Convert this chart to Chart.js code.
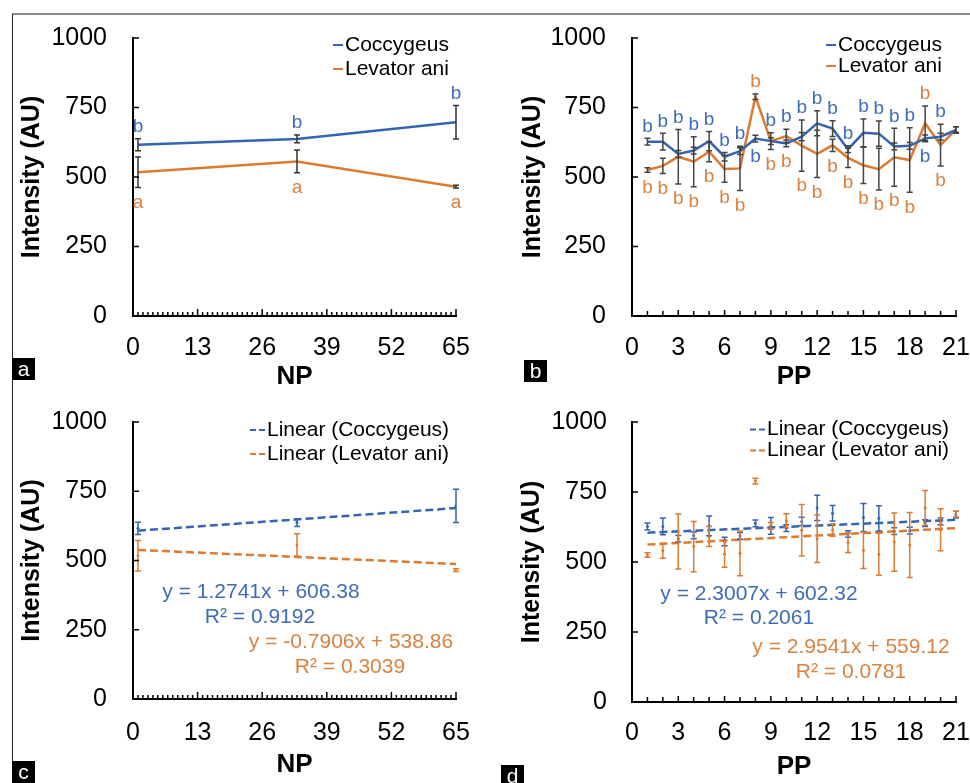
<!DOCTYPE html>
<html>
<head>
<meta charset="utf-8">
<script src="https://cdn.jsdelivr.net/npm/chart.js@4.4.1/dist/chart.umd.min.js"></script>
<style>
  html, body { margin: 0; padding: 0; background: #fff; }
  #fig { position: relative; width: 970px; height: 783px; overflow: hidden; }
  #frame { position: absolute; left: 12px; top: 13px; width: 960px; height: 780px;
           border-top: 2px solid #8a8a8a; border-left: 1.5px solid #222; }
  canvas { position: absolute; }
  .tag { position: absolute; width: 23px; height: 22px; background: #000; color: #fff;
         font: 21px 'Liberation Sans', Arial, sans-serif; line-height: 21px; text-align: center; }
</style>
</head>
<body>
<div id="fig">
  <div id="frame"></div>
  <canvas id="pa" width="485" height="390" style="left:0;top:0"></canvas>
  <canvas id="pb" width="485" height="390" style="left:485px;top:0"></canvas>
  <canvas id="pc" width="485" height="393" style="left:0;top:390px"></canvas>
  <canvas id="pd" width="485" height="393" style="left:485px;top:390px"></canvas>
  <div class="tag" style="left:12px;top:358px">a</div>
  <div class="tag" style="left:524px;top:360px">b</div>
  <div class="tag" style="left:12px;top:761px">c</div>
  <div class="tag" style="left:501px;top:765px">d</div>
</div>
<script>
// ---- data ----
const yTicks = [0, 250, 500, 750, 1000];
const npTicks = [0, 13, 26, 39, 52, 65];
const ppTicks = [0, 3, 6, 9, 12, 15, 18, 21];

const npDays = [1, 33, 65];
const npCoccygeus = [616, 637, 697];
const npCoccygeusErr = [22, 14, 60];
const npLevator = [517, 556, 465];
const npLevatorErr = [55, 41, 5];
const npCoccygeusLetters = ['b', 'b', 'b'];
const npLevatorLetters = ['a', 'a', 'a'];

const ppDays = [1, 2, 3, 4, 5, 6, 7, 8, 9, 10, 11, 12, 13, 14, 15, 16, 17, 18, 19, 20, 21];
const ppCoccygeus = [627, 627, 583, 595, 629, 573, 593, 638, 629, 621, 645, 693, 674, 600, 659, 656, 610, 612, 639, 645, 669];
const ppCoccygeusErr = [12, 30, 12, 12, 35, 15, 12, 12, 30, 12, 15, 45, 28, 12, 50, 45, 12, 12, 12, 12, 12];
const ppLevator = [525, 540, 573, 555, 591, 529, 531, 789, 629, 647, 613, 583, 614, 569, 542, 528, 571, 561, 693, 615, 671];
const ppLevatorErr = [8, 27, 98, 90, 36, 48, 80, 10, 12, 25, 92, 85, 22, 35, 65, 75, 104, 116, 62, 75, 10];
const ppLetters = ['b', 'b', 'b', 'b', 'b', 'b', 'b', 'b', 'b', 'b', 'b', 'b', 'b', 'b', 'b', 'b', 'b', 'b', 'b', 'b', ''];
// where the letter sits for Coccygeus; Levator ani takes the other side
const ppCoccygeusSide = ['above', 'above', 'above', 'above', 'above', 'above', 'above', 'below', 'above', 'above',
  'above', 'above', 'above', 'above', 'above', 'above', 'above', 'above', 'below', 'above', 'above'];

// trendlines as printed on panels c and d: [Coccygeus, Levator ani]
const npSlope = [1.2741, -0.7906];
const npIntercept = [606.38, 538.86];
const npR2 = [0.9192, 0.3039];
const ppSlope = [2.3007, 2.9541];
const ppIntercept = [602.32, 559.12];
const ppR2 = [0.2061, 0.0781];

const BLUE = '#3565b0';
const ORANGE = '#dc7a30';
const BLUE_TXT = '#3e6cb6';
const ORANGE_TXT = '#d9823f';
const FONT = "'Liberation Sans', Arial, sans-serif";

const pts = (xs, ys) => xs.map((x, i) => ({ x: x, y: ys[i] }));
const other = s => s === 'above' ? 'below' : 'above';

// ---- plugins ----
const axisMarks = {
  id: 'axisMarks',
  afterDraw(chart, args, o) {
    const { ctx, chartArea: a, scales: { x, y } } = chart;
    ctx.save();
    ctx.strokeStyle = '#000';
    ctx.lineWidth = 1.5;
    ctx.beginPath();
    y.ticks.forEach(t => {
      const p = y.getPixelForValue(t.value);
      ctx.moveTo(a.left, p); ctx.lineTo(a.left + 6, p);
    });
    for (let v = x.min + 1; v <= x.max; v++) {
      const p = x.getPixelForValue(v);
      const len = v % o.major === 0 ? o.majorLen : o.minorLen;
      ctx.moveTo(p, a.bottom); ctx.lineTo(p, a.bottom - len);
    }
    ctx.stroke();
    ctx.restore();
  }
};

const errorBars = {
  id: 'errorBars',
  afterDatasetsDraw(chart) {
    const { ctx, scales: { y } } = chart;
    chart.data.datasets.forEach((ds, i) => {
      if (!ds.errors) return;
      const meta = chart.getDatasetMeta(i);
      ctx.save();
      ctx.strokeStyle = ds.errorColor;
      ctx.lineWidth = 1.5;
      ctx.beginPath();
      meta.data.forEach((pt, j) => {
        const v = ds.data[j].y, e = ds.errors[j];
        const t = y.getPixelForValue(v + e), b = y.getPixelForValue(v - e);
        ctx.moveTo(pt.x, t); ctx.lineTo(pt.x, b);
        ctx.moveTo(pt.x - 3, t); ctx.lineTo(pt.x + 3, t);
        ctx.moveTo(pt.x - 3, b); ctx.lineTo(pt.x + 3, b);
      });
      ctx.stroke();
      ctx.restore();
    });
  }
};

const sigLetters = {
  id: 'sigLetters',
  afterDatasetsDraw(chart) {
    const { ctx, scales: { y } } = chart;
    const all = chart.data.datasets;
    const sets = all.filter(d => d.letters);
    if (!sets.length) return;
    ctx.save();
    ctx.font = '19px ' + FONT;
    ctx.textAlign = 'center';
    ctx.textBaseline = 'middle';
    sets.forEach(ds => {
      const meta = chart.getDatasetMeta(all.indexOf(ds));
      meta.data.forEach((pt, j) => {
        const L = ds.letters[j];
        if (!L) return;
        let py;
        if (ds.sides[j] === 'above') {
          const top = Math.max(...sets.map(s => s.data[j].y + s.errors[j]));
          py = y.getPixelForValue(top) - 12;
        } else {
          const bot = Math.min(...sets.map(s => s.data[j].y - s.errors[j]));
          py = y.getPixelForValue(bot) + 15;
        }
        ctx.fillStyle = ds.letterColor;
        ctx.fillText(L, pt.x, py);
      });
    });
    ctx.restore();
  }
};

const lineLegend = {
  id: 'lineLegend',
  afterDraw(chart, args, o) {
    const ctx = chart.ctx;
    ctx.save();
    ctx.font = '21px ' + FONT;
    ctx.textAlign = 'left';
    ctx.textBaseline = 'middle';
    o.items.forEach((it, k) => {
      const yy = o.y + k * o.gap;
      ctx.strokeStyle = it.color;
      ctx.lineWidth = 2;
      ctx.setLineDash(it.dash || []);
      ctx.beginPath(); ctx.moveTo(o.x, yy); ctx.lineTo(o.x + o.len, yy); ctx.stroke();
      ctx.setLineDash([]);
      ctx.fillStyle = '#000';
      ctx.fillText(it.text, o.x + o.len + 2, yy);
    });
    ctx.restore();
  }
};

const fitLabels = {
  id: 'fitLabels',
  afterDraw(chart, args, o) {
    if (!o.items) return;
    const ctx = chart.ctx;
    ctx.save();
    ctx.font = '21px ' + FONT;
    ctx.textAlign = 'center';
    ctx.textBaseline = 'middle';
    o.items.forEach(it => {
      ctx.fillStyle = it.color;
      ctx.fillText(it.text, it.x, it.y);
    });
    ctx.restore();
  }
};

const eqText = (s, b) => 'y = ' + s + 'x + ' + b;
const r2Text = r => 'R\u00b2 = ' + r.toFixed(4);

function trend(xs, s, b, color) {
  const x0 = xs[0], x1 = xs[xs.length - 1];
  return {
    data: [{ x: x0, y: s * x0 + b }, { x: x1, y: s * x1 + b }],
    showLine: true, borderColor: color, borderWidth: 2.5, borderDash: [8, 4], pointRadius: 0
  };
}

function panel(id, p) {
  const cvs = document.getElementById(id);
  return new Chart(cvs, {
    type: 'scatter',
    data: { datasets: p.datasets },
    options: {
      responsive: false,
      animation: false,
      events: [],
      layout: { padding: { left: 0, top: p.area.top, right: cvs.width - p.area.right, bottom: 0 } },
      plugins: {
        legend: { display: false },
        tooltip: { enabled: false },
        axisMarks: p.marks,
        lineLegend: p.legend,
        fitLabels: p.fit || {}
      },
      scales: {
        x: {
          type: 'linear', min: 0, max: p.xTicks[p.xTicks.length - 1],
          afterBuildTicks: s => { s.ticks = p.xTicks.map(v => ({ value: v })); },
          afterFit: s => { s.height = cvs.height - p.area.bottom; s.paddingLeft = 0; s.paddingRight = 0; },
          grid: { display: false, drawTicks: false },
          border: { color: '#000', width: 2 },
          ticks: { font: { size: 25, family: FONT, lineHeight: 1 }, color: '#000', padding: p.xPad,
                   maxRotation: 0, autoSkip: false },
          title: { display: true, text: p.xTitle, color: '#000',
                   font: { size: 26, weight: 'bold', family: FONT, lineHeight: 1 },
                   padding: { top: 0, bottom: p.xTitlePad } }
        },
        y: {
          type: 'linear', min: 0, max: 1000,
          afterBuildTicks: s => { s.ticks = yTicks.map(v => ({ value: v })); },
          afterFit: s => { s.width = p.area.left; s.paddingTop = 0; s.paddingBottom = 0; },
          grid: { display: false, drawTicks: false },
          border: { color: '#000', width: 2 },
          ticks: { font: { size: 25, family: FONT, lineHeight: 1 }, color: '#000', padding: p.yPad,
                   callback: v => String(v) },
          title: { display: true, text: 'Intensity (AU)', color: '#000',
                   font: { size: 25, weight: 'bold', family: FONT, lineHeight: 1 },
                   padding: { top: p.yTitlePad, bottom: 0 } }
        }
      }
    },
    plugins: [axisMarks, errorBars, sigLetters, lineLegend, fitLabels]
  });
}

const seriesLine = (data, color) => ({ data: data, showLine: true, borderColor: color, borderWidth: 2.5, pointRadius: 0 });
const seriesDots = (data, color) => ({ data: data, showLine: false, pointRadius: 1.5, backgroundColor: color, borderColor: color, borderWidth: 0 });

// a
panel('pa', {
  area: { left: 133, right: 456, top: 38, bottom: 316 },
  xTicks: npTicks, xTitle: 'NP', xPad: 19.5, xTitlePad: 0, yPad: 26, yTitlePad: 19.5,
  marks: { major: 13, majorLen: 7, minorLen: 4 },
  legend: { x: 333, y: 45, gap: 24, len: 10, items: [
    { text: 'Coccygeus', color: BLUE }, { text: 'Levator ani', color: ORANGE }] },
  datasets: [
    Object.assign(seriesLine(pts(npDays, npCoccygeus), BLUE), { errors: npCoccygeusErr, errorColor: '#333',
      letters: npCoccygeusLetters, sides: npDays.map(() => 'above'), letterColor: BLUE_TXT }),
    Object.assign(seriesLine(pts(npDays, npLevator), ORANGE), { errors: npLevatorErr, errorColor: '#333',
      letters: npLevatorLetters, sides: npDays.map(() => 'below'), letterColor: ORANGE_TXT })
  ]
});

// b
panel('pb', {
  area: { left: 147, right: 471, top: 38, bottom: 316 },
  xTicks: ppTicks, xTitle: 'PP', xPad: 19.5, xTitlePad: 0, yPad: 26, yTitlePad: 35.5,
  marks: { major: 3, majorLen: 6, minorLen: 5 },
  legend: { x: 341, y: 45, gap: 21, len: 10, items: [
    { text: 'Coccygeus', color: BLUE }, { text: 'Levator ani', color: ORANGE }] },
  datasets: [
    Object.assign(seriesLine(pts(ppDays, ppCoccygeus), BLUE), { errors: ppCoccygeusErr, errorColor: '#444',
      letters: ppLetters, sides: ppCoccygeusSide, letterColor: BLUE_TXT }),
    Object.assign(seriesLine(pts(ppDays, ppLevator), ORANGE), { errors: ppLevatorErr, errorColor: '#444',
      letters: ppLetters, sides: ppCoccygeusSide.map(other), letterColor: ORANGE_TXT })
  ]
});

// c
panel('pc', {
  area: { left: 133, right: 456, top: 32, bottom: 309 },
  xTicks: npTicks, xTitle: 'NP', xPad: 21.5, xTitlePad: 5, yPad: 26, yTitlePad: 20,
  marks: { major: 13, majorLen: 7, minorLen: 4 },
  legend: { x: 250, y: 40, gap: 24, len: 15, items: [
    { text: 'Linear (Coccygeus)', color: BLUE, dash: [6, 3] },
    { text: 'Linear (Levator ani)', color: ORANGE, dash: [6, 3] }] },
  fit: { items: [
    { text: eqText(npSlope[0], npIntercept[0]), x: 261, y: 202, color: BLUE_TXT },
    { text: r2Text(npR2[0]), x: 260, y: 227, color: BLUE_TXT },
    { text: eqText(npSlope[1], npIntercept[1]), x: 351, y: 252, color: ORANGE_TXT },
    { text: r2Text(npR2[1]), x: 350, y: 277, color: ORANGE_TXT }] },
  datasets: [
    Object.assign(seriesDots(pts(npDays, npCoccygeus), BLUE), { errors: npCoccygeusErr, errorColor: BLUE }),
    Object.assign(seriesDots(pts(npDays, npLevator), ORANGE), { errors: npLevatorErr, errorColor: ORANGE }),
    trend(npDays, npSlope[0], npIntercept[0], BLUE),
    trend(npDays, npSlope[1], npIntercept[1], ORANGE)
  ]
});

// d
panel('pd', {
  area: { left: 147, right: 471, top: 32, bottom: 312 },
  xTicks: ppTicks, xTitle: 'PP', xPad: 19, xTitlePad: 3, yPad: 25, yTitlePad: 35,
  marks: { major: 3, majorLen: 6, minorLen: 5 },
  legend: { x: 265, y: 39.5, gap: 21, len: 15, items: [
    { text: 'Linear (Coccygeus)', color: BLUE, dash: [6, 3] },
    { text: 'Linear (Levator ani)', color: ORANGE, dash: [6, 3] }] },
  fit: { items: [
    { text: eqText(ppSlope[0], ppIntercept[0]), x: 274, y: 204, color: BLUE_TXT },
    { text: r2Text(ppR2[0]), x: 274, y: 228, color: BLUE_TXT },
    { text: eqText(ppSlope[1], ppIntercept[1]), x: 366, y: 257, color: ORANGE_TXT },
    { text: r2Text(ppR2[1]), x: 366, y: 282, color: ORANGE_TXT }] },
  datasets: [
    Object.assign(seriesDots(pts(ppDays, ppCoccygeus), BLUE), { errors: ppCoccygeusErr, errorColor: BLUE }),
    Object.assign(seriesDots(pts(ppDays, ppLevator), ORANGE), { errors: ppLevatorErr, errorColor: ORANGE }),
    trend(ppDays, ppSlope[0], ppIntercept[0], BLUE),
    trend(ppDays, ppSlope[1], ppIntercept[1], ORANGE)
  ]
});
</script>
</body>
</html>
